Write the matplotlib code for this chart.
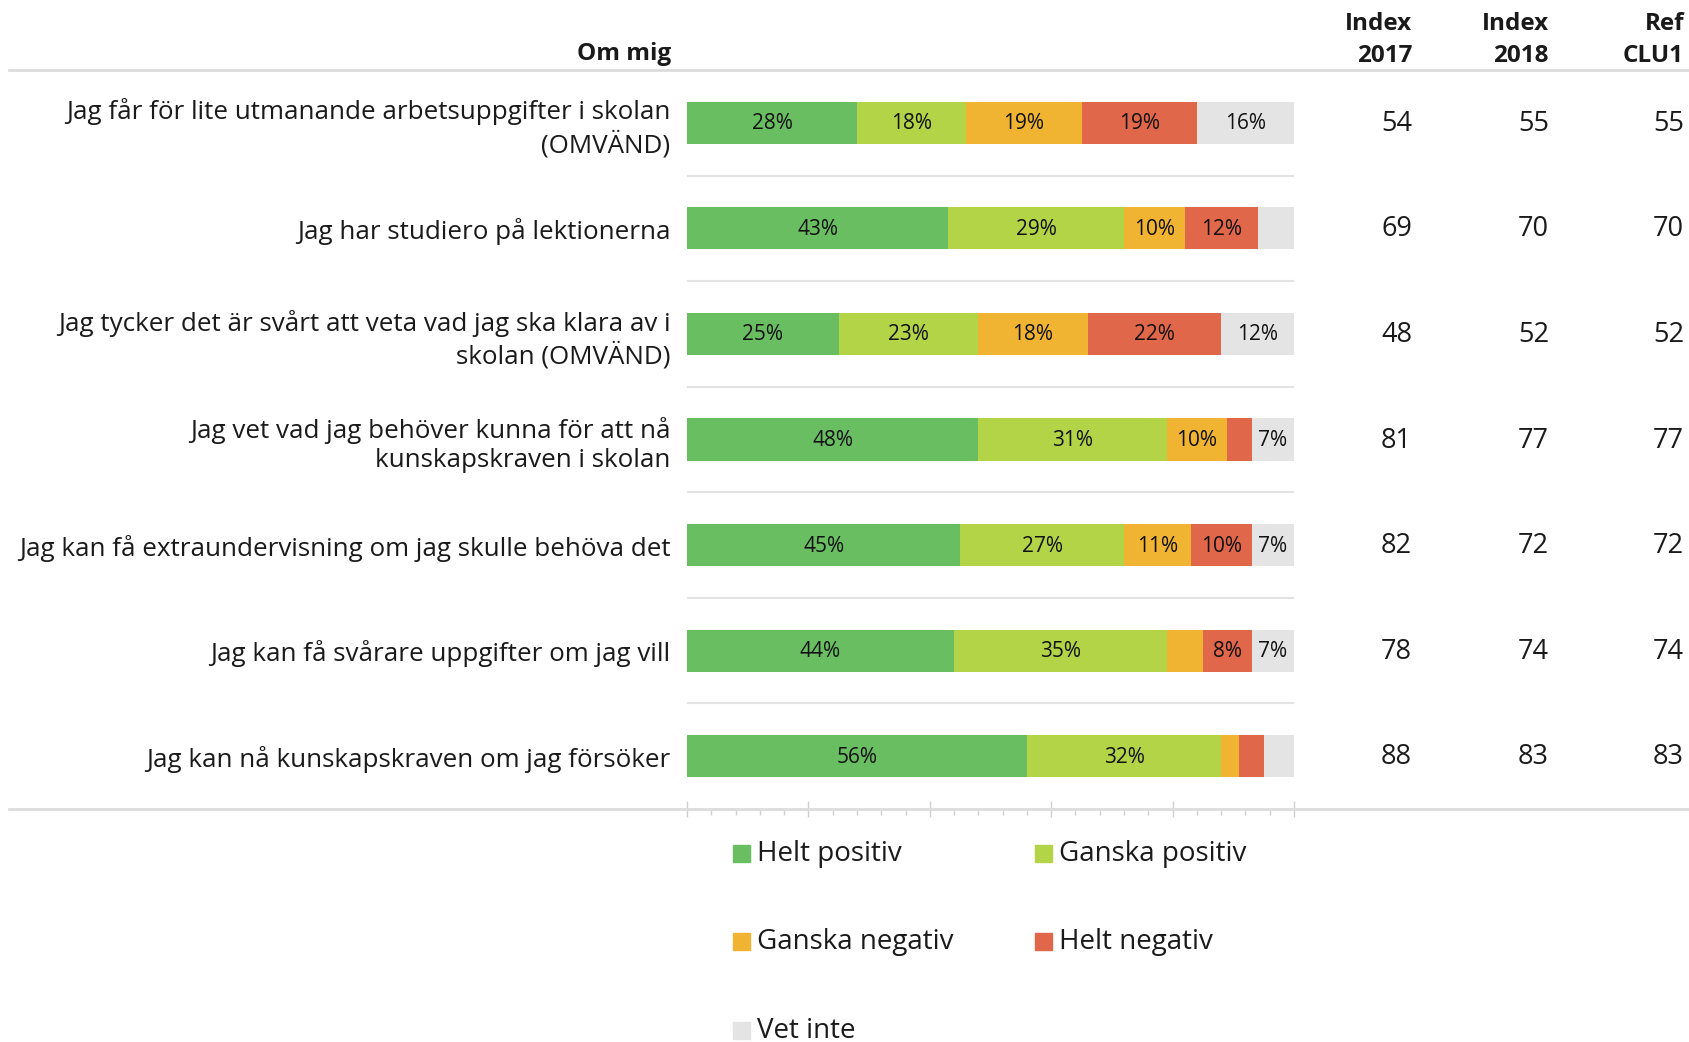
import numpy as np
import matplotlib
matplotlib.use("Agg")
import matplotlib.pyplot as plt
from matplotlib.lines import Line2D
from matplotlib.patches import Rectangle
from matplotlib.transforms import blended_transform_factory

plt.rcParams['font.family'] = ['Open Sans', 'DejaVu Sans']

# data
questions = [
    "Jag får för lite utmanande arbetsuppgifter i skolan\n(OMVÄND)",
    "Jag har studiero på lektionerna",
    "Jag tycker det är svårt att veta vad jag ska klara av i\nskolan (OMVÄND)",
    "Jag vet vad jag behöver kunna för att nå\nkunskapskraven i skolan",
    "Jag kan få extraundervisning om jag skulle behöva det",
    "Jag kan få svårare uppgifter om jag vill",
    "Jag kan nå kunskapskraven om jag försöker",
]
categories = ["Helt positiv", "Ganska positiv", "Ganska negativ", "Helt negativ", "Vet inte"]
helt_positiv = [28, 43, 25, 48, 45, 44, 56]
ganska_positiv = [18, 29, 23, 31, 27, 35, 32]
ganska_negativ = [19, 10, 18, 10, 11, 6, 3]
helt_negativ = [19, 12, 22, 4, 10, 8, 4]
vet_inte = [16, 6, 12, 7, 7, 7, 5]
index_2017 = [54, 69, 48, 81, 82, 78, 88]
index_2018 = [55, 70, 52, 77, 72, 74, 83]
ref_clu1 = [55, 70, 52, 77, 72, 74, 83]
col_headers = ["Index\n2017", "Index\n2018", "Ref\nCLU1"]

colors = ['#6ABE62', '#B2D446', '#F0B432', '#E1674A', '#E4E4E4']

W, H = 1689, 1042
fig = plt.figure(figsize=(W / 100, H / 100), dpi=100)

def fx(px):
    return px / W

def fy(py):
    return 1 - py / H

ax = fig.add_axes([fx(687), fy(809), fx(1294) - fx(687), fy(70) - fy(809)])

series = [helt_positiv, ganska_positiv, ganska_negativ, helt_negativ, vet_inte]
y = np.arange(len(questions))
left = np.zeros(len(questions))
for vals, col, name in zip(series, colors, categories):
    vals = np.array(vals, dtype=float)
    ax.barh(y, vals, left=left, height=0.4, color=col, label=name)
    for yi, v, l in zip(y, vals, left):
        if v >= 7:
            ax.text(l + v / 2, yi + 0.01, f"{v:.0f}%", ha='center', va='center',
                    fontsize=15, color='#111111')
    left += vals

ax.set_xlim(0, 100)
ax.set_ylim(6.5, -0.5)
for sep in np.arange(0.5, 6.5, 1):
    ax.axhline(sep, color='#E3E3E3', lw=1.5, zorder=0)

for s in ['top', 'right', 'left', 'bottom']:
    ax.spines[s].set_visible(False)

ax.set_yticks(y)
ax.set_yticklabels(questions, fontsize=18.7, color='#1a1a1a', linespacing=1.25)
for lab in ax.get_yticklabels():
    if "\n" in lab.get_text():
        lab.set_y(lab.get_position()[1])
ax.tick_params(axis='y', length=0, pad=12)
ax.set_xticks(np.arange(0, 101, 20))
ax.set_xticks(np.arange(0, 101, 4), minor=True)
ax.set_xticklabels([])
ax.tick_params(axis='x', which='major', direction='inout', length=11, color='#D0D0D0', width=1)
ax.tick_params(axis='x', which='minor', direction='out', length=4.5, color='#D0D0D0', width=1)

# full-width header and bottom lines
for py in (70, 809):
    fig.add_artist(Line2D([fx(9), 1], [fy(py), fy(py)], color='#DCDCDC', lw=2))

# header
fig.text(fx(671), fy(54), "Om mig", ha='right', va='center', fontsize=17.5,
         fontweight='bold', color='#1a1a1a')

col_x = [1412, 1549, 1684]
trans = blended_transform_factory(fig.transFigure, ax.transData)
for cx, head, vals in zip(col_x, col_headers, [index_2017, index_2018, ref_clu1]):
    fig.text(fx(cx), fy(40), head, ha='right', va='center', fontsize=17.5,
             fontweight='bold', color='#1a1a1a', linespacing=1.45)
    for yi, v in zip(y, vals):
        ax.text(fx(cx), yi + 0.01, str(v), transform=trans, ha='right', va='center',
                fontsize=19.5, color='#1a1a1a')

# legend, row-wise in two columns
leg_x = [733, 1035]
leg_y = [854, 942, 1031]
for i, (name, col) in enumerate(zip(categories, colors)):
    r, c = i // 2, i % 2
    x0, y0 = leg_x[c], leg_y[r]
    fig.add_artist(Rectangle((fx(x0), fy(y0 + 8)), fx(17), 17 / H,
                             transform=fig.transFigure, color=col))
    fig.text(fx(x0 + 24), fy(y0), name, ha='left', va='center', fontsize=20,
             color='#1a1a1a')

fig.savefig('out.png', dpi=100)
